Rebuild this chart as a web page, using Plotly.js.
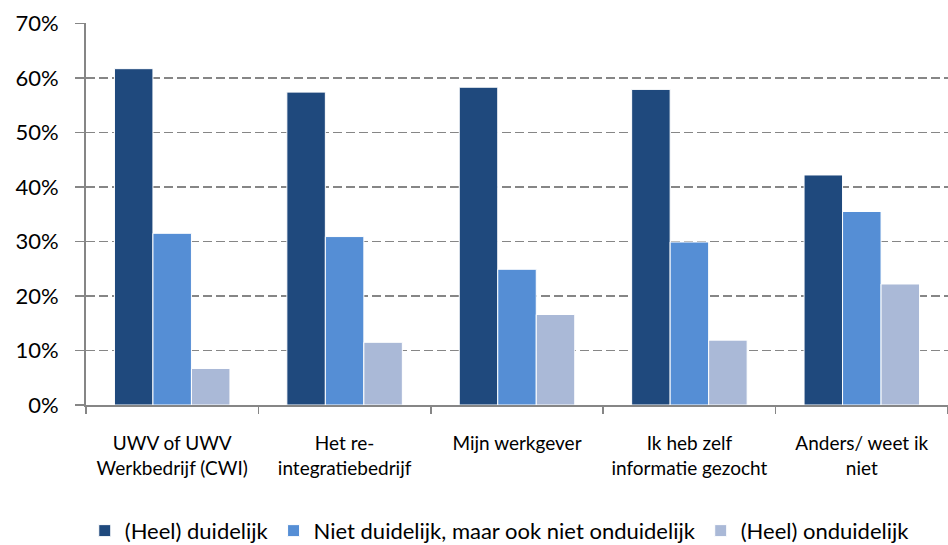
<!DOCTYPE html>
<html>
<head>
<meta charset="utf-8">
<script src="https://cdn.plot.ly/plotly-3.0.1.min.js"></script>
<style>html,body{margin:0;padding:0;background:#fff;}#chart{width:948px;height:545px;}</style>
</head>
<body>
<div id="chart"></div>
<script>
var categories = ["UWV of UWV<br>Werkbedrijf (CWI)", "Het re-<br>integratiebedrijf", "Mijn werkgever<br> ", "Ik heb zelf<br>informatie gezocht", "Anders/ weet ik<br>niet"];
var seriesNames = ["(Heel) duidelijk", "Niet duidelijk, maar ook niet onduidelijk", "(Heel) onduidelijk"];
var duidelijk = [0.617, 0.574, 0.583, 0.579, 0.422];
var neutraal = [0.315, 0.309, 0.249, 0.299, 0.355];
var onduidelijk = [0.067, 0.115, 0.166, 0.119, 0.222];
var colors = ["#1F497D", "#558ED5", "#AAB9D7"];

var seriesValues = [duidelijk, neutraal, onduidelijk];
var traces = seriesValues.map(function(v, i) {
  return {
    type: "bar",
    x: categories,
    y: v,
    name: seriesNames[i],
    marker: {color: colors[i], line: {color: "#ffffff", width: 1}},
    hoverinfo: "skip"
  };
});

var layout = {
  width: 948, height: 545,
  margin: {l: 86, r: 0, t: 23, b: 140, autoexpand: false},
  paper_bgcolor: "#ffffff", plot_bgcolor: "#ffffff",
  font: {family: "Lato, 'Open Sans', sans-serif", size: 20, color: "#000000"},
  barmode: "group",
  bargap: 0.33,
  bargroupgap: 0,
  showlegend: true,
  legend: {orientation: "h", x: 0.48, xanchor: "center", yref: "container", y: 0.026, yanchor: "middle",
           font: {size: 22}, itemwidth: 30, traceorder: "normal"},
  xaxis: {
    type: "category", automargin: false,
    showline: true, linecolor: "#868686", linewidth: 2,
    ticks: "outside", tickson: "boundaries", ticklen: 7, tickcolor: "#868686", tickwidth: 1.5,
    showgrid: false, zeroline: false,
    tickangle: 0,
    tickfont: {size: 19},
    ticklabelstandoff: 20
  },
  yaxis: {
    automargin: false,
    range: [0, 0.7008], tickvals: [0, 0.1, 0.2, 0.3, 0.4, 0.5, 0.6, 0.7], tickformat: ".0%",
    showline: true, linecolor: "#868686", linewidth: 2,
    ticks: "outside", ticklen: 9, tickcolor: "#868686", tickwidth: 1.5,
    showgrid: true, gridcolor: "#868686", gridwidth: 1.8, griddash: "9px,4px",
    zeroline: false,
    tickfont: {size: 22},
    ticklabelstandoff: 12
  }
};

Plotly.newPlot("chart", traces, layout, {displayModeBar: false, staticPlot: true});
</script>
</body>
</html>
